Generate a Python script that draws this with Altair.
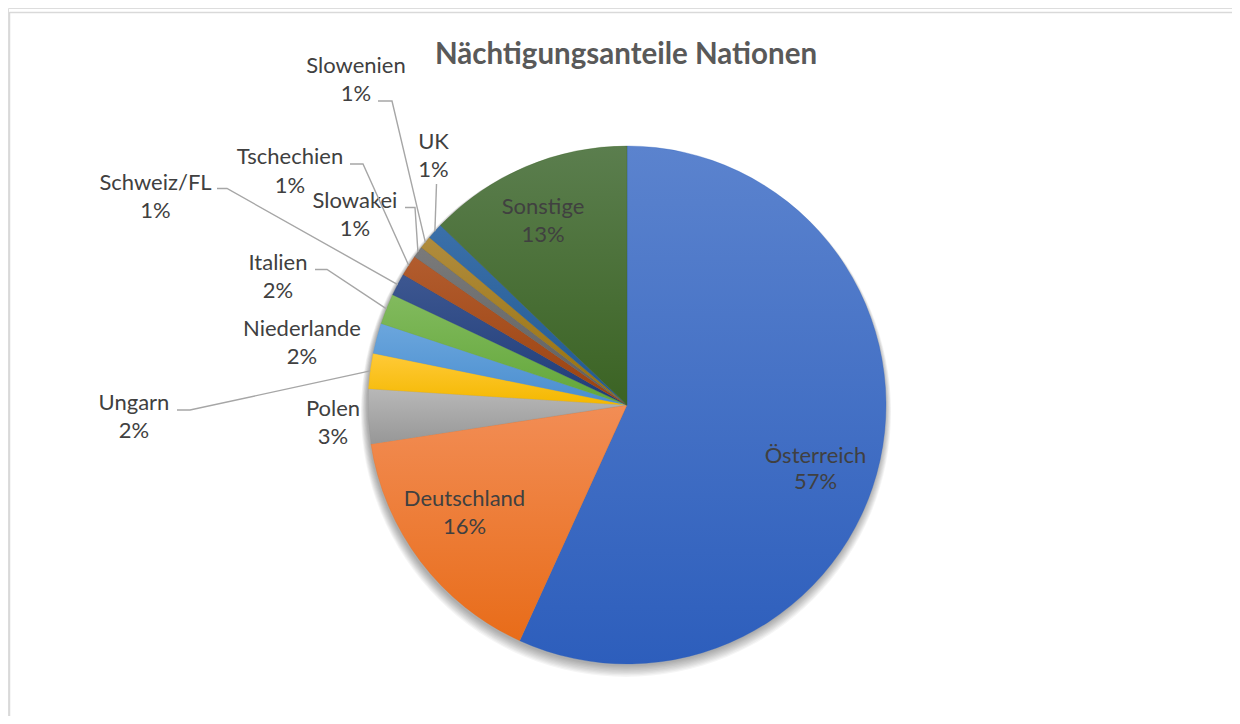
import math
import altair as alt
import pandas as pd

# ---------------- data ----------------
categories = ["Österreich", "Deutschland", "Polen", "Ungarn", "Niederlande", "Italien",
              "Schweiz/FL", "Tschechien", "Slowakei", "Slowenien", "UK", "Sonstige"]
values = [56.8, 15.8, 3.4, 2.2, 1.9, 1.9, 1.4, 1.3, 0.7, 0.8, 1.0, 12.8]
title_text = "Nächtigungsanteile Nationen"

# ---------------- styles ----------------
colors_top = ["#5b83ce", "#f28d55", "#b8b8b8", "#ffca38", "#6ba6dd", "#82ba5e",
              "#3d5791", "#b25c2e", "#7a7a7a", "#b08c3e", "#3b70aa", "#5b7e4e"]
colors_bottom = ["#2d5ebc", "#e86c19", "#979797", "#f4b800", "#4a8ecf", "#62a739",
                 "#1f3c77", "#9a420f", "#5f5f5f", "#977009", "#215990", "#3b6323"]

W, H = 1224, 708
M = 8  # page margin
CX, CY, R = 627 - M, 405 - M, 259
FONT = "Lato"
TXT = "#404040"

# label layout (page coords): centre x, baseline of name, baseline of percentage
label_layout = {
    "Österreich": (815.5, 463, 489),
    "Deutschland": (464.5, 506, 534),
    "Sonstige": (543, 214, 242),
    "Polen": (333, 416, 444),
    "Ungarn": (134, 410, 438),
    "Niederlande": (302, 336, 364),
    "Italien": (278, 270, 298),
    "Schweiz/FL": (155.5, 190, 218),
    "Tschechien": (290, 164, 192.5),
    "Slowakei": (355, 207.5, 236),
    "Slowenien": (356, 72.5, 101),
    "UK": (433.5, 148.5, 176.5),
}
# leader line start points (page coords); line ends at slice edge midpoint
leader_layout = {
    "Slowenien": [(378, 101), (392, 101)],
    "UK": [(436.5, 184)],
    "Slowakei": [(405, 207.5), (415, 207.5)],
    "Tschechien": [(350, 164), (363, 164)],
    "Schweiz/FL": [(217, 188.5), (227, 188.5)],
    "Italien": [(315, 269.5), (327, 269.5)],
    "Ungarn": [(177, 410), (190, 410)],
}

total = sum(values)
cum = []
s = 0.0
for v in values:
    cum.append((s, s + v))
    s += v

pie_df = pd.DataFrame({
    "name": categories,
    "value": values,
    "order": list(range(len(categories))),
})

# ---------------- pie shadow ----------------
shadow_df = pd.DataFrame({"a": [0], "b": [total]})
theta_scale = alt.Scale(domain=[0, total], range=[0, 2 * math.pi])
layers = []
for k in range(9):
    layers.append(
        alt.Chart(shadow_df).mark_arc(radius=R + 0.5 + k * 0.7, color="#000000", opacity=0.04)
        .encode(theta=alt.Theta("a:Q", scale=theta_scale), theta2="b:Q",
                x=alt.value(CX - 1), y=alt.value(CY + 2 + k * 0.6))
    )

# ---------------- slices ----------------
base = alt.Chart(pie_df).transform_window(
    cum_end="sum(value)", sort=[alt.SortField("order")], frame=[None, 0]
).transform_calculate(cum_start="datum.cum_end - datum.value")
for i, name in enumerate(categories):
    grad = alt.LinearGradient(
        gradient="linear",
        stops=[alt.GradientStop(offset=0, color=colors_top[i]),
               alt.GradientStop(offset=1, color=colors_bottom[i])],
        x1=0, x2=0, y1=0, y2=1,
    )
    layers.append(
        base.transform_filter(alt.datum.name == name)
        .mark_arc(radius=R, color=grad, stroke=colors_bottom[i], strokeWidth=0.3)
        .encode(theta=alt.Theta("cum_start:Q", scale=theta_scale), theta2="cum_end:Q",
                x=alt.value(CX), y=alt.value(CY))
    )

# ---------------- labels ----------------
lab_rows = []
for i, name in enumerate(categories):
    x, y1, y2 = label_layout[name]
    lab_rows.append({"name": name, "pct": f"{round(values[i] / total * 100)}%",
                     "x": x - M, "y1": y1 - M, "y2": y2 - M})
lab_df = pd.DataFrame(lab_rows)
for field, ycol in (("name", "y1"), ("pct", "y2")):
    layers.append(
        alt.Chart(lab_df).mark_text(font=FONT, fontSize=22, color=TXT, align="center",
                                    baseline="alphabetic")
        .encode(x=alt.X("x:Q", scale=None, axis=None), y=alt.Y(f"{ycol}:Q", scale=None, axis=None),
                text=f"{field}:N")
    )

# ---------------- leader lines ----------------
line_rows = []
for name, pts in leader_layout.items():
    i = categories.index(name)
    mid = (cum[i][0] + cum[i][1]) / 2 / total * 2 * math.pi
    ex = CX + R * math.sin(mid)
    ey = CY - R * math.cos(mid)
    seq = [(px - M, py - M) for px, py in pts] + [(ex, ey)]
    for j, (px, py) in enumerate(seq):
        line_rows.append({"name": name, "o": j, "x": px, "y": py})
line_df = pd.DataFrame(line_rows)
layers.append(
    alt.Chart(line_df).mark_line(color="#a6a6a6", strokeWidth=1.4)
    .encode(x=alt.X("x:Q", scale=None, axis=None), y=alt.Y("y:Q", scale=None, axis=None),
            detail="name:N", order="o:Q")
)

# ---------------- title ----------------
title_df = pd.DataFrame({"t": [title_text]})
layers.append(
    alt.Chart(title_df).mark_text(font=FONT, fontSize=29.5, fontWeight="bold", color="#595959",
                                  align="center", baseline="alphabetic")
    .encode(text="t:N", x=alt.value(626 - M), y=alt.value(64 - M))
)

# ---------------- frame ----------------
frame_df = pd.DataFrame({"d": [0]})
layers.append(alt.Chart(frame_df).mark_rule(color="#d9d9d9", strokeWidth=1.5)
              .encode(x=alt.value(1.5), y=alt.value(4), y2=alt.value(H)))
layers.append(alt.Chart(frame_df).mark_rule(color="#d9d9d9", strokeWidth=1.5)
              .encode(x=alt.value(1.5), x2=alt.value(W), y=alt.value(4.5)))

chart = alt.layer(*layers).properties(
    width=W, height=H, autosize=alt.AutoSizeParams(type="none"), padding=0
).configure_view(strokeWidth=0, stroke="transparent").configure(background="white")

chart.save("out.html", embed_options={"renderer": "svg", "actions": False})
